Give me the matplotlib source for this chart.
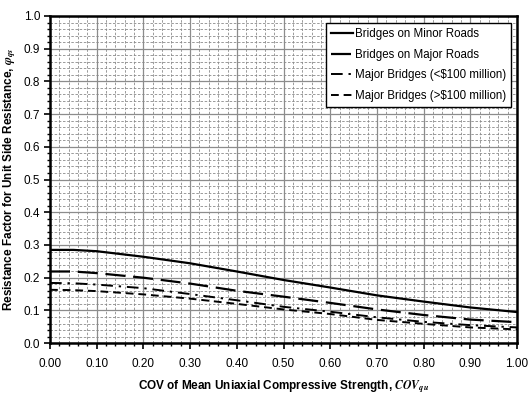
import matplotlib
matplotlib.use("Agg")
import matplotlib.pyplot as plt
from matplotlib.ticker import MultipleLocator, FormatStrFormatter

plt.rcParams['font.family'] = ['Liberation Sans', 'DejaVu Sans']
plt.rcParams['mathtext.fontset'] = 'stix'

cov = [0.0, 0.05, 0.1, 0.2, 0.3, 0.4, 0.5, 0.6, 0.7, 0.8, 0.9, 1.0]
minor_roads = [0.285, 0.285, 0.281, 0.264, 0.244, 0.219, 0.193, 0.170, 0.146, 0.127, 0.109, 0.095]
major_roads = [0.219, 0.219, 0.214, 0.200, 0.182, 0.160, 0.142, 0.123, 0.103, 0.086, 0.072, 0.064]
major_lt100 = [0.184, 0.183, 0.179, 0.168, 0.150, 0.131, 0.111, 0.096, 0.079, 0.065, 0.055, 0.048]
major_gt100 = [0.163, 0.162, 0.159, 0.149, 0.136, 0.120, 0.103, 0.089, 0.071, 0.059, 0.048, 0.042]

labels = ["Bridges on Minor Roads", "Bridges on Major Roads",
          "Major Bridges (<$100 million)", "Major Bridges (>$100 million)"]

fig = plt.figure(figsize=(5.32, 3.99), dpi=100)
ax = fig.add_axes([0.094, 0.140, 0.878, 0.820])

ax.plot(cov, minor_roads, color='black', lw=1.6, linestyle='-', label=labels[0])
ax.plot(cov, major_roads, color='black', lw=1.6, linestyle=(0, (9, 3.5)), label=labels[1])
ax.plot(cov, major_lt100, color='black', lw=1.4, linestyle=(0, (6, 3, 1.2, 3)), label=labels[2])
ax.plot(cov, major_gt100, color='black', lw=1.4, linestyle=(0, (4, 2.5)), label=labels[3])

ax.set_xlim(0, 1)
ax.set_ylim(0, 1)
ax.xaxis.set_major_locator(MultipleLocator(0.1))
ax.xaxis.set_minor_locator(MultipleLocator(0.02))
ax.yaxis.set_major_locator(MultipleLocator(0.1))
ax.yaxis.set_minor_locator(MultipleLocator(0.02))
ax.xaxis.set_major_formatter(FormatStrFormatter('%.2f'))
ax.yaxis.set_major_formatter(FormatStrFormatter('%.1f'))

ax.grid(which='major', color='#8c8c8c', lw=0.9, linestyle='-')
ax.grid(which='minor', color='#8a8a8a', lw=0.6, linestyle=(0, (3, 2)))
ax.set_axisbelow(True)

ax.tick_params(which='major', direction='out', length=4, width=1.2, labelsize=8.5, pad=7)
ax.tick_params(which='minor', direction='out', length=2.5, width=1)
ax.tick_params(axis='y', pad=3)
for s in ax.spines.values():
    s.set_linewidth(1.8)

ax.set_xlabel('COV of Mean Uniaxial Compressive Strength, $\\mathbfit{COV}_{\\mathbfit{qu}}$',
              fontsize=8.5, fontweight='bold', labelpad=6)
ax.set_ylabel('Resistance Factor for Unit Side Resistance, $\\mathbfit{\\varphi}_{\\mathbfit{qs}}$',
              fontsize=8.5, fontweight='bold', labelpad=4)

leg = ax.legend(loc='upper right', bbox_to_anchor=(0.987, 0.979), borderaxespad=0,
                fontsize=8.3, frameon=True, fancybox=False, edgecolor='black', framealpha=1,
                handlelength=1.9, handletextpad=0.15, borderpad=0.45, labelspacing=0.75)
leg.get_frame().set_linewidth(1.0)

fig.savefig('out.png', dpi=100)
